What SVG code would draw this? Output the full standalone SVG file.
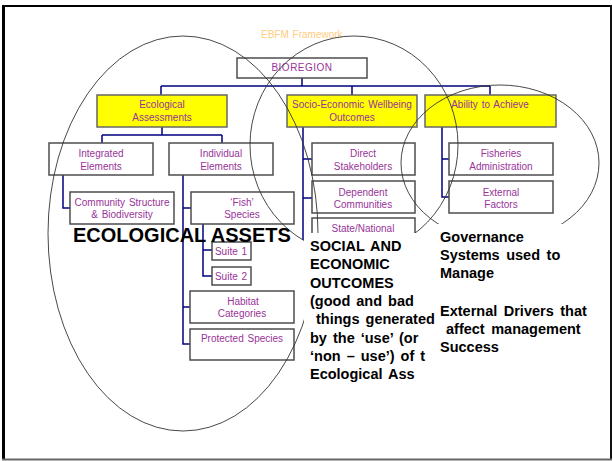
<svg xmlns="http://www.w3.org/2000/svg" width="613" height="461" viewBox="0 0 613 461">
<style>
.box{fill:#fff;stroke:#4d4d4d;stroke-width:1.5}
.ybox{fill:#ffff00;stroke:#666;stroke-width:1.5}
.t{font-family:"Liberation Sans",Arial,sans-serif;font-size:10px;fill:#993399;text-anchor:middle}
.conn{fill:none;stroke:#000080;stroke-width:1.5}
.ell{fill:none;stroke:#333;stroke-width:0.9}
.big{font-family:"Liberation Sans",Arial,sans-serif;font-weight:bold;fill:#000}
</style>
<rect x="0" y="0" width="613" height="461" fill="#fff"/>
<!-- frame -->
<line x1="2" y1="6" x2="612" y2="6" stroke="#000" stroke-width="2"/>
<line x1="3.5" y1="5" x2="3.5" y2="460" stroke="#000" stroke-width="3"/>
<line x1="611" y1="5" x2="611" y2="460" stroke="#111" stroke-width="2"/>
<line x1="2" y1="459.5" x2="612" y2="459.5" stroke="#666" stroke-width="2"/>

<text x="261" y="38" font-family="Liberation Sans, Arial, sans-serif" font-size="10" fill="#ffcc80" word-spacing="1">EBFM Framework</text>

<g id="connectors">
<path class="conn" d="M302 78V86M161 86H490M161 86V95M352 86V95M490 86V95"/>
<path class="conn" d="M162 127V135M102 135H222M102 135V143M222 135V143"/>
<path class="conn" d="M63 175V208H70"/>
<path class="conn" d="M183 175V344H190M183 208H191M183 307H190"/>
<path class="conn" d="M203 224V276H212M203 250H212"/>
<path class="conn" d="M303 127V240M303 159H312M303 198H312"/>
<path class="conn" d="M442 127V197H449M442 159H449"/>
</g>

<g id="bioregion"><rect class="box" x="237" y="58" width="130" height="20"/><text class="t" x="302" y="71" letter-spacing="0.5">BIOREGION</text></g>
<g id="ecological-assessments"><rect class="ybox" x="97" y="95" width="130" height="32"/><text class="t" x="162" y="108">Ecological</text><text class="t" x="162" y="121">Assessments</text></g>
<g id="socio-economic"><rect class="ybox" x="287" y="95" width="130" height="32"/><text class="t" x="352" y="108" word-spacing="1">Socio-Economic Wellbeing</text><text class="t" x="352" y="121">Outcomes</text></g>
<g id="ability"><rect class="ybox" x="425" y="95" width="131" height="32"/><text class="t" x="490" y="108" word-spacing="1">Ability to Achieve</text></g>

<g id="integrated"><rect class="box" x="49" y="143" width="104" height="32"/><text class="t" x="101" y="157">Integrated</text><text class="t" x="101" y="170">Elements</text></g>
<g id="individual"><rect class="box" x="169" y="143" width="104" height="32"/><text class="t" x="221" y="157">Individual</text><text class="t" x="221" y="170">Elements</text></g>
<g id="community"><rect class="box" x="70" y="192" width="104" height="32"/><text class="t" x="122" y="205.5" word-spacing="1">Community Structure</text><text class="t" x="122" y="218" word-spacing="1">&amp; Biodiversity</text></g>
<g id="fish"><rect class="box" x="191" y="192" width="103" height="32"/><text class="t" x="242" y="205.5">‘Fish’</text><text class="t" x="242" y="218">Species</text></g>
<g id="suite1"><rect class="box" x="212" y="242" width="39" height="18"/><text class="t" x="231" y="254.5" word-spacing="1">Suite 1</text></g>
<g id="suite2"><rect class="box" x="212" y="267" width="39" height="18"/><text class="t" x="231" y="279.5" word-spacing="1">Suite 2</text></g>
<g id="habitat"><rect class="box" x="190" y="291" width="104" height="32"/><text class="t" x="243" y="304.5">Habitat</text><text class="t" x="242" y="317">Categories</text></g>
<g id="protected"><rect class="box" x="190" y="329" width="104" height="31"/><text class="t" x="242" y="342" word-spacing="1">Protected Species</text></g>

<g id="direct"><rect class="box" x="312" y="143" width="103" height="32"/><text class="t" x="363" y="156.5">Direct</text><text class="t" x="363" y="169.5">Stakeholders</text></g>
<g id="dependent"><rect class="box" x="312" y="181" width="103" height="32"/><text class="t" x="363" y="195.5">Dependent</text><text class="t" x="363" y="207.5">Communities</text></g>
<g id="state"><rect class="box" x="312" y="218" width="103" height="32"/><text class="t" x="363" y="232">State/National</text></g>

<g id="fisheries"><rect class="box" x="449" y="143" width="104" height="32"/><text class="t" x="501" y="156.5">Fisheries</text><text class="t" x="501" y="170">Administration</text></g>
<g id="external"><rect class="box" x="449" y="181" width="104" height="32"/><text class="t" x="501" y="195.5">External</text><text class="t" x="501" y="208">Factors</text></g>

<g id="ellipses">
<ellipse class="ell" cx="183" cy="233.5" rx="135" ry="197.5"/>
<ellipse class="ell" cx="354" cy="145" rx="104" ry="109"/>
<ellipse class="ell" cx="500" cy="163" rx="99" ry="78"/>
</g>

<text class="big" x="73" y="242" font-size="20">ECOLOGICAL ASSETS</text>

<g id="social">
<rect x="304" y="233" width="133" height="152" fill="#fff"/>
<text class="big" font-size="14.5" word-spacing="2">
<tspan x="310" y="251">SOCIAL AND</tspan>
<tspan x="310" y="269.3">ECONOMIC</tspan>
<tspan x="310" y="287.6">OUTCOMES</tspan>
<tspan x="310" y="306">(good and bad</tspan>
<tspan x="316" y="324.3">things generated</tspan>
<tspan x="310" y="342.6">by the ‘use’ (or</tspan>
<tspan x="310" y="361">‘non – use’) of t</tspan>
<tspan x="310" y="379.3">Ecological Ass</tspan>
</text>
</g>
<g id="governance">
<rect x="437" y="224" width="163" height="135" fill="#fff"/>
<text class="big" font-size="14.5" word-spacing="2.5">
<tspan x="440" y="242">Governance</tspan>
<tspan x="440" y="260">Systems used to</tspan>
<tspan x="440" y="278">Manage</tspan>
<tspan x="440" y="316">External Drivers that</tspan>
<tspan x="446" y="334">affect management</tspan>
<tspan x="440" y="352">Success</tspan>
</text>
</g>
</svg>
